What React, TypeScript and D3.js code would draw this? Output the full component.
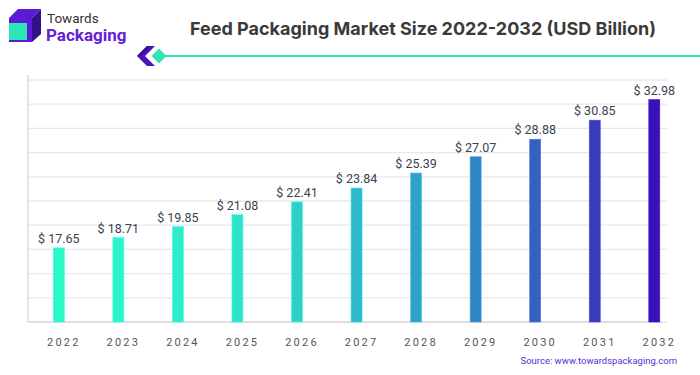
import React from "react";
import * as d3 from "d3";

const years = ["2022","2023","2024","2025","2026","2027","2028","2029","2030","2031","2032"];
const values = [17.65, 18.71, 19.85, 21.08, 22.41, 23.84, 25.39, 27.07, 28.88, 30.85, 32.98];
const barColors = ["#2cf7c8","#2df3c8","#2eedc8","#2ee3c8","#2fd0c8","#2db9c7","#2ea3c7","#3184c4","#3561bf","#3a3bb8","#3a11b6"];
const yTicks = [10, 12.5, 15, 17.5, 20, 22.5, 25, 27.5, 30, 32.5, 35];

const W = 700, H = 375;
const plotLeft = 28, plotRight = 667, plotTop = 80, plotBottom = 322;

export default function App() {
  const x = d3.scalePoint<string>().domain(years).range([58.8, 654.3]);
  const y = d3.scaleLinear().domain([10, 35]).range([plotBottom, plotTop]);
  const bw = 11;
  return (
    <svg width={W} height={H} style={{ position: "absolute", left: 0, top: 0, background: "#fff" }}>
      <rect x={0} y={0} width={W} height={H} fill="#fff" />
      {/* logo */}
      <polygon points="9,18 18,9 41,9 32,18" fill="#5a1ad6" />
      <polygon points="32,18 41,9 41,34 32,42" fill="#34108a" />
      <rect x={9} y={18} width={23} height={24} fill="#5a1ad6" />
      <rect x={9} y={23} width={18} height={17} fill="#2ee6b5" />
      <text x={47} y={23} fontFamily="Roboto, sans-serif" fontSize={13.5} fill="#333">Towards</text>
      <text x={46} y={41} fontFamily="Roboto, sans-serif" fontWeight={700} fontSize={17} fill="#6420d6">Packaging</text>
      {/* title */}
      <text x={423} y={35} textAnchor="middle" fontFamily="Inter, sans-serif" fontWeight={700} fontSize={18} fill="#3a3a3a">Feed Packaging Market Size 2022-2032 (USD Billion)</text>
      {/* decorative */}
      <line x1={158} y1={56} x2={700} y2={56} stroke="#2ee6b5" strokeWidth={2} />
      <polygon points="147,46 155,46 145,56 155,66 147,66 137,56" fill="#4a14b8" />
      <polygon points="147,46 151,46 141,56 137,56" fill="#3a0f95" />
      <polygon points="159,48.5 166.5,56 159,63.5 151.5,56" fill="#2ee6b5" />
      {/* grid */}
      {yTicks.map((t) => (
        <line key={t} x1={plotLeft} x2={plotRight} y1={y(t)} y2={y(t)} stroke="#e8e8e8" strokeWidth={1.3} />
      ))}
      <line x1={plotLeft} x2={plotLeft} y1={75} y2={plotBottom} stroke="#d8d8d8" strokeWidth={1.3} />
      <line x1={plotLeft} x2={662} y1={plotBottom} y2={plotBottom} stroke="#d8d8d8" strokeWidth={1.3} />
      {/* bars */}
      {years.map((yr, i) => (
        <g key={yr}>
          <rect x={(x(yr) as number) - bw / 2} y={y(values[i])} width={bw} height={plotBottom - y(values[i])}
            fill={barColors[i]} stroke={d3.color(barColors[i])!.brighter(0.6).formatHex()} strokeWidth={0.6} />
          <text x={x(yr) as number} y={y(values[i]) - 5} textAnchor="middle" fontFamily="Roboto, sans-serif" fontSize={12.5} fill="#3a4250">
            {"$ " + values[i].toFixed(2)}
          </text>
          <text x={(x(yr) as number) + 5} y={346} textAnchor="middle" fontFamily="Roboto, sans-serif" fontSize={11} letterSpacing={2.2} fill="#555">{yr}</text>
        </g>
      ))}
      <text x={677} y={364} textAnchor="end" fontFamily="Roboto, sans-serif" fontSize={9.5} fill="#5b2ed6">Source: www.towardspackaging.com</text>
    </svg>
  );
}
